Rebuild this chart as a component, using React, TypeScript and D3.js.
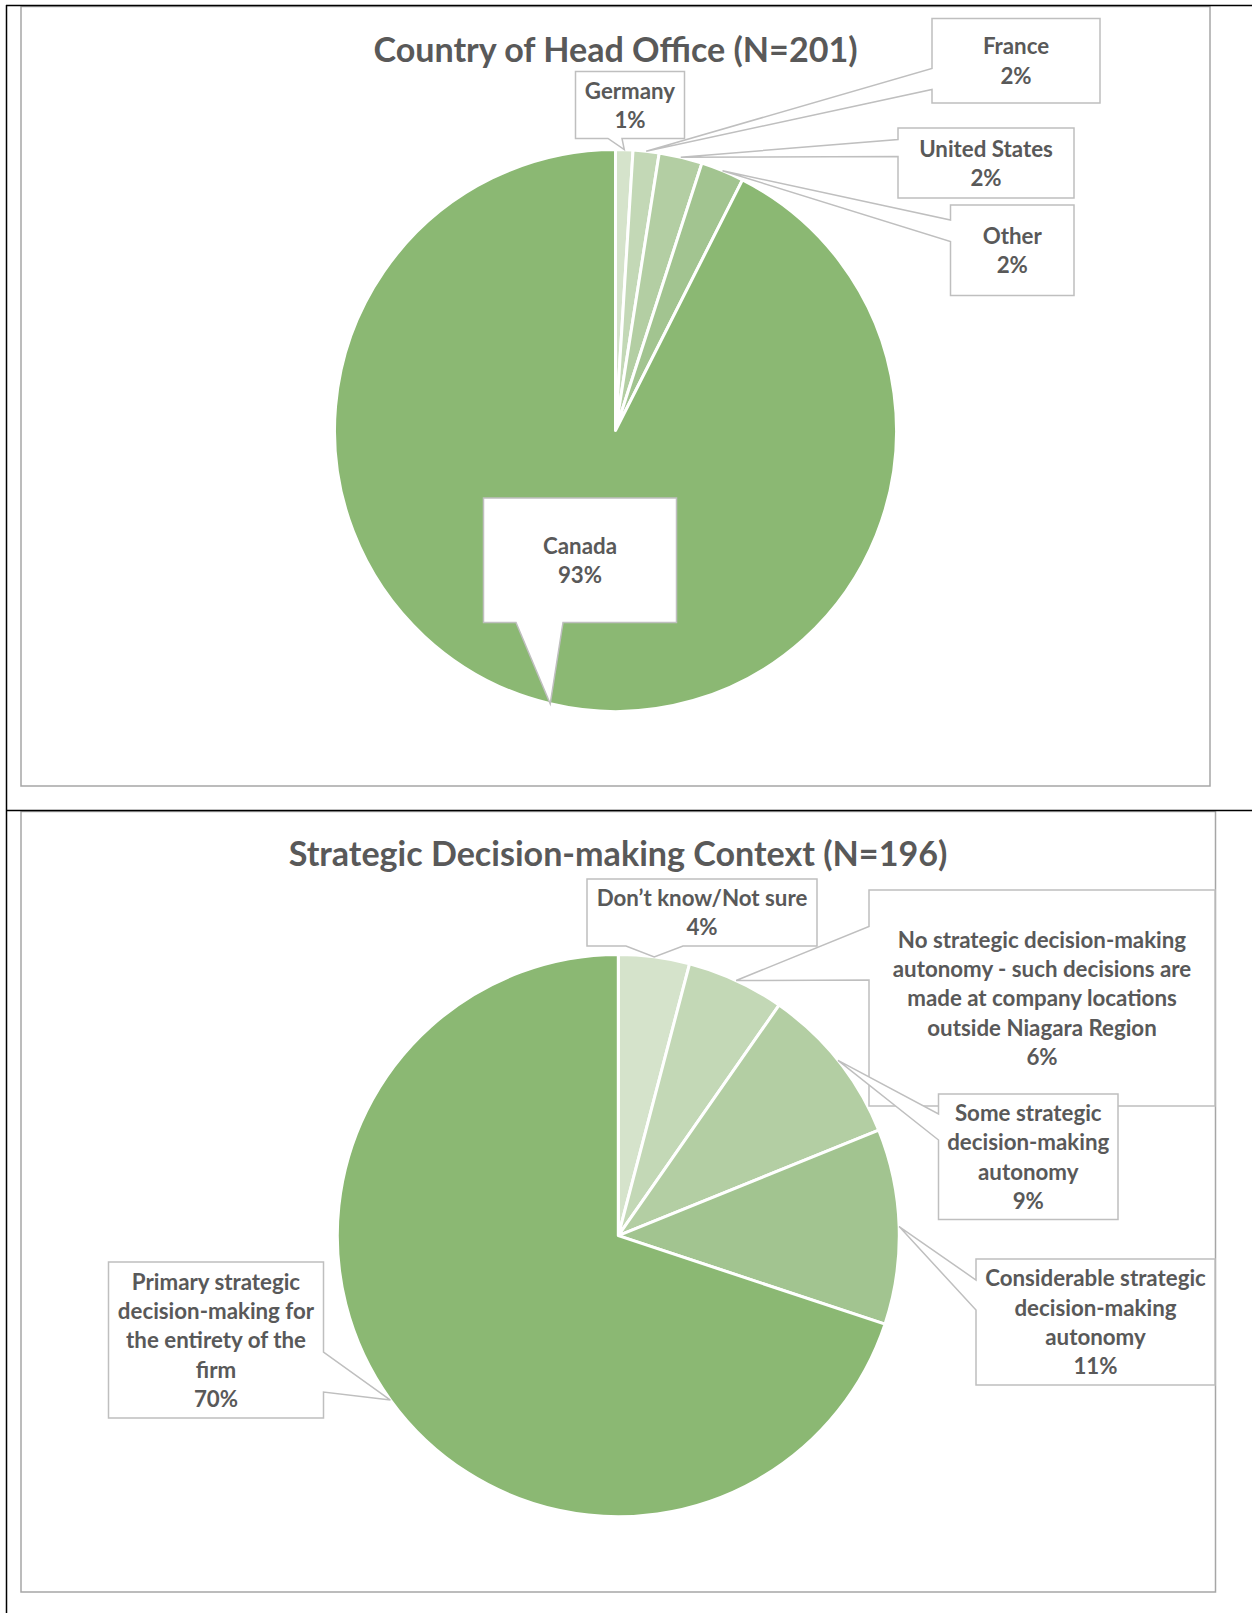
import React from 'react';
import * as d3 from 'd3';

// ---------- DATA ----------
const countryLabels = [['Germany'], ['France'], ['United States'], ['Other'], ['Canada']];
const countryValues = [2, 3, 5, 5, 186];
const countryPct = ['1%', '2%', '2%', '2%', '93%'];

const decisionLabels = [
  ['Don’t know/Not sure'],
  ['No strategic decision-making', 'autonomy - such decisions are', 'made at company locations', 'outside Niagara Region'],
  ['Some strategic', 'decision-making', 'autonomy'],
  ['Considerable strategic', 'decision-making', 'autonomy'],
  ['Primary strategic', 'decision-making for', 'the entirety of the', 'firm'],
];
const decisionValues = [8, 11, 18, 22, 137];
const decisionPct = ['4%', '6%', '9%', '11%', '70%'];

const titles = ['Country of Head Office (N=201)', 'Strategic Decision-making Context (N=196)'];

// ---------- STYLE / LAYOUT ----------
const sliceColors = ['#D5E3CB', '#C3D8B6', '#B3CEA3', '#A2C490', '#8BB873'];
const textColor = '#595959';
const calloutStroke = '#BFBFBF';
const frameStroke = '#A6A6A6';
const FONT = "Lato, 'Open Sans', sans-serif";
const LABEL_SIZE = 22.3;
const LINE_H = 29.3;
const TITLE_SIZE = 34.1;
const R = 281;

type Side = 'left' | 'right' | 'top' | 'bottom';
interface Callout { x: number; y: number; w: number; h: number; side: Side; base: [number, number]; }

const topCallouts: Callout[] = [
  { x: 575.5, y: 71.5, w: 109, h: 67, side: 'bottom', base: [608, 622] },
  { x: 932, y: 18.5, w: 168, h: 84.5, side: 'left', base: [68.5, 89.5] },
  { x: 898, y: 128, w: 176, h: 70, side: 'left', base: [139.5, 156.5] },
  { x: 950.5, y: 205, w: 123.5, h: 90.5, side: 'left', base: [220, 241.5] },
  { x: 483.5, y: 498, w: 193, h: 124.5, side: 'bottom', base: [516, 563] },
];
const bottomCallouts: Callout[] = [
  { x: 587, y: 879, w: 230, h: 67, side: 'bottom', base: [626, 683] },
  { x: 869, y: 890, w: 346, h: 216, side: 'left', base: [926.5, 980] },
  { x: 938.5, y: 1094, w: 179.5, h: 125.5, side: 'left', base: [1114, 1140] },
  { x: 976, y: 1259, w: 239, h: 126, side: 'left', base: [1280, 1310] },
  { x: 108.5, y: 1262, w: 215, h: 156, side: 'right', base: [1352, 1392] },
];

function calloutPath(c: Callout, apex: [number, number]): string {
  const { x, y, w, h, side, base } = c;
  const [a, b] = base;
  const [ax, ay] = apex;
  const x2 = x + w, y2 = y + h;
  switch (side) {
    case 'top':
      return `M${x},${y}L${a},${y}L${ax},${ay}L${b},${y}L${x2},${y}L${x2},${y2}L${x},${y2}Z`;
    case 'right':
      return `M${x},${y}L${x2},${y}L${x2},${a}L${ax},${ay}L${x2},${b}L${x2},${y2}L${x},${y2}Z`;
    case 'bottom':
      return `M${x},${y}L${x2},${y}L${x2},${y2}L${b},${y2}L${ax},${ay}L${a},${y2}L${x},${y2}Z`;
    default:
      return `M${x},${y}L${x2},${y}L${x2},${y2}L${x},${y2}L${x},${b}L${ax},${ay}L${x},${a}Z`;
  }
}

interface PieProps {
  cx: number; cy: number; values: number[]; labels: string[][]; pct: string[];
  callouts: Callout[]; title: string; titleX: number; titleY: number;
}

function PieChart({ cx, cy, values, labels, pct, callouts, title, titleX, titleY }: PieProps) {
  const pie = d3.pie<number>().sort(null).value((d) => d);
  const arcs = pie(values);
  const arc = d3.arc<d3.PieArcDatum<number>>().innerRadius(0).outerRadius(R);
  const pointArc = d3.arc<d3.PieArcDatum<number>>().innerRadius(R).outerRadius(R);
  const color = d3.scaleOrdinal<number, string>().domain(d3.range(values.length)).range(sliceColors);
  return (
    <g>
      <text x={titleX} y={titleY} textAnchor="middle" fontFamily={FONT} fontWeight={700}
        fontSize={TITLE_SIZE} fill={textColor}>{title}</text>
      <g transform={`translate(${cx},${cy})`}>
        {arcs.map((d, i) => (
          <path key={i} d={arc(d) || ''} fill={color(i)} stroke="#FFFFFF" strokeWidth={3} strokeLinejoin="round" />
        ))}
      </g>
      {arcs.map((d, i) => {
        const c = callouts[i];
        const p = pointArc.centroid(d);
        const apex: [number, number] = [cx + p[0], cy + p[1]];
        const lines = [...labels[i], pct[i]];
        const mid = c.y + c.h / 2;
        const tx = c.x + c.w / 2;
        return (
          <g key={'c' + i}>
            <path d={calloutPath(c, apex)} fill="#FFFFFF" stroke={calloutStroke} strokeWidth={1.5} />
            <text textAnchor="middle" fontFamily={FONT} fontWeight={700} fontSize={LABEL_SIZE} fill={textColor}>
              {lines.map((t, j) => (
                <tspan key={j} x={tx} y={mid + (j - (lines.length - 1) / 2) * LINE_H + 8.3}>{t}</tspan>
              ))}
            </text>
          </g>
        );
      })}
    </g>
  );
}

export default function App() {
  return (
    <div style={{ position: 'absolute', left: 0, top: 0 }}>
      <svg width={1252} height={1613} viewBox="0 0 1252 1613" style={{ display: 'block', background: '#FFFFFF' }}>
        <rect x={0} y={0} width={1252} height={1613} fill="#FFFFFF" />
        {/* chart frames */}
        <rect x={21} y={6.5} width={1189} height={779.5} fill="#FFFFFF" stroke={frameStroke} strokeWidth={1.5} />
        <rect x={21} y={811.5} width={1194.5} height={780.5} fill="#FFFFFF" stroke={frameStroke} strokeWidth={1.5} />
        {/* page (table) borders */}
        <line x1={6} y1={5.5} x2={1252} y2={5.5} stroke="#000000" strokeWidth={1.5} />
        <line x1={6.5} y1={5} x2={6.5} y2={1613} stroke="#000000" strokeWidth={1.5} />
        <line x1={6} y1={810.5} x2={1252} y2={810.5} stroke="#000000" strokeWidth={1.5} />

        <PieChart cx={615.5} cy={430.5} values={countryValues} labels={countryLabels} pct={countryPct}
          callouts={topCallouts} title={titles[0]} titleX={615.5} titleY={62} />
        <PieChart cx={618.3} cy={1235.6} values={decisionValues} labels={decisionLabels} pct={decisionPct}
          callouts={bottomCallouts} title={titles[1]} titleX={618} titleY={866} />
      </svg>
    </div>
  );
}
